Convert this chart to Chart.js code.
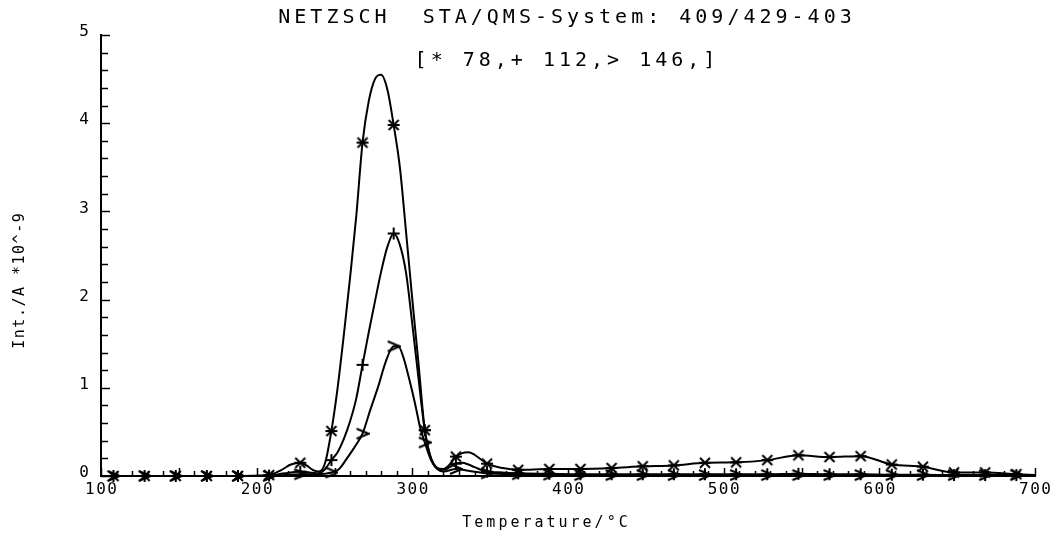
<!DOCTYPE html>
<html>
<head>
<meta charset="utf-8">
<script src="https://cdn.jsdelivr.net/npm/chart.js@4.4.1/dist/chart.umd.min.js"></script>
<style>
  html, body { margin: 0; padding: 0; background: #fff; }
  #wrap { width: 1062px; height: 536px; }
</style>
</head>
<body>
<div id="wrap"><canvas id="msChart" width="1062" height="536"></canvas></div>
<script>
// DATA
const titleText = "NETZSCH  STA/QMS-System: 409/429-403";
const subtitleText = "[* 78,+ 112,> 146,]";
const xTitle = "Temperature/°C";
const yTitle = "Int./A *10^-9";

const xTicks = [100, 200, 300, 400, 500, 600, 700];
const yTicks = [0, 1, 2, 3, 4, 5];

// every 20 degC the plotter put a symbol on the curve
const markerTemps = [108, 128, 148, 168, 188, 208, 228, 248, 268, 288, 308, 328, 348, 368, 388,
    408, 428, 448, 468, 488, 508, 528, 548, 568, 588, 608, 628, 648, 668, 688];

// m/z 78 (*)
const temps78 = [100, 108, 128, 148, 168, 188, 208, 216, 222, 228, 232, 236, 240, 244,
    248, 252, 256, 260, 264, 268, 272, 276, 280, 284, 288, 292, 296, 300, 304, 308,
    312, 316, 320, 324, 328, 332, 336, 340, 344, 348, 358, 368,
    388, 408, 428, 448, 468, 488, 508, 528, 548, 568, 588, 608, 628, 648, 668, 688, 700];
const values78 = [0, 0, 0, 0, 0, 0, 0.01, 0.07, 0.13, 0.15, 0.12, 0.07, 0.05, 0.15,
    0.51, 1.0, 1.6, 2.25, 2.95, 3.78, 4.25, 4.5, 4.55, 4.38, 3.98, 3.5, 2.76, 2.0, 1.27, 0.52,
    0.2, 0.09, 0.08, 0.13, 0.22, 0.26, 0.27, 0.24, 0.19, 0.14, 0.09, 0.07,
    0.08, 0.08, 0.09, 0.11, 0.12, 0.15, 0.155, 0.18, 0.235, 0.215, 0.225, 0.13, 0.105, 0.04, 0.04, 0.02, 0.01];

// m/z 112 (+)
const temps112 = [100, 108, 128, 148, 168, 188, 208, 218, 228, 234, 240, 244,
    248, 252, 256, 260, 264, 268, 272, 276, 280, 284, 288, 292, 296, 300, 304, 308,
    312, 316, 320, 324, 328, 332, 336, 340, 348, 358, 368,
    388, 408, 428, 448, 468, 488, 508, 528, 548, 568, 588, 608, 628, 648, 668, 688, 700];
const values112 = [0, 0, 0, 0, 0, 0, 0.005, 0.03, 0.05, 0.04, 0.03, 0.08,
    0.18, 0.27, 0.42, 0.62, 0.88, 1.26, 1.63, 1.98, 2.32, 2.6, 2.75, 2.62, 2.3, 1.72, 1.1, 0.52,
    0.2, 0.09, 0.07, 0.1, 0.14, 0.15, 0.13, 0.1, 0.05, 0.04, 0.03,
    0.025, 0.02, 0.02, 0.02, 0.02, 0.02, 0.02, 0.02, 0.025, 0.02, 0.02, 0.015, 0.015, 0.01, 0.01, 0.01, 0.01];

// m/z 146 (>)
const temps146 = [100, 108, 128, 148, 168, 188, 208, 228, 240, 248, 253, 258, 263, 268,
    273, 278, 283, 288, 291, 294, 298, 302, 305, 308, 312, 316, 320, 328, 336, 348, 368,
    388, 408, 428, 448, 468, 488, 508, 528, 548, 568, 588, 608, 628, 648, 668, 688, 700];
const values146 = [0, 0, 0, 0, 0, 0, 0, 0.02, 0.02, 0.04, 0.08, 0.2, 0.33, 0.48,
    0.75, 1.01, 1.3, 1.47, 1.47, 1.36, 1.1, 0.8, 0.55, 0.38, 0.18, 0.08, 0.05, 0.08, 0.06, 0.03, 0.02,
    0.015, 0.01, 0.01, 0.01, 0.01, 0.01, 0.01, 0.01, 0.01, 0.01, 0.01, 0.01, 0.01, 0.01, 0.01, 0.01, 0.01];

// MARKER SYMBOLS (plotter style)
function makeSymbol(drawFn) {
    const c = document.createElement('canvas');
    c.width = 14; c.height = 14;
    const g = c.getContext('2d');
    g.strokeStyle = '#000';
    g.lineWidth = 2;
    g.beginPath();
    drawFn(g);
    g.stroke();
    return c;
}
const starSym = makeSymbol(g => {
    g.moveTo(2, 2); g.lineTo(12, 12);
    g.moveTo(2, 12); g.lineTo(12, 2);
    g.moveTo(1, 7); g.lineTo(13, 7);
});
const plusSym = makeSymbol(g => {
    g.moveTo(7, 1); g.lineTo(7, 13);
    g.moveTo(1, 7); g.lineTo(13, 7);
});
const gtSym = makeSymbol(g => {
    g.moveTo(1, 2); g.lineTo(13, 7); g.lineTo(1, 12);
});

function toPoints(temps, values) {
    return temps.map((t, i) => ({ x: t, y: values[i] }));
}

function series(label, temps, values, sym) {
    return {
        label: label,
        data: toPoints(temps, values),
        borderColor: '#000',
        borderWidth: 2,
        cubicInterpolationMode: 'monotone',
        pointStyle: sym,
        pointRadius: ctx => (ctx.raw && markerTemps.includes(ctx.raw.x)) ? 6 : 0,
        clip: false
    };
}

// TEXT + TICK DECORATION
function spacedText(ctx, text, cx, cy, font, spacing) {
    ctx.font = font;
    ctx.letterSpacing = '0px';
    const w = ctx.measureText(text).width + spacing * (text.length - 1);
    ctx.letterSpacing = spacing + 'px';
    ctx.textAlign = 'left';
    ctx.textBaseline = 'middle';
    ctx.fillText(text, cx - w / 2, cy);
    ctx.letterSpacing = '0px';
}

const decor = {
    id: 'decor',
    afterDraw(chart) {
        const { ctx, scales: { x, y } } = chart;
        const left = x.left, bottom = y.bottom;
        ctx.save();
        ctx.strokeStyle = '#000';
        ctx.fillStyle = '#000';
        ctx.lineWidth = 1.5;

        // y ticks, inside, every 0.2
        ctx.beginPath();
        for (let i = 0; i <= 25; i++) {
            const py = Math.round(y.getPixelForValue(i * 0.2)) + 0.5;
            const len = (i % 5 === 0) ? 9 : 7;
            ctx.moveTo(left, py); ctx.lineTo(left + len, py);
        }
        // x ticks, inside, every 10
        for (let i = 0; i <= 60; i++) {
            const px = Math.round(x.getPixelForValue(100 + i * 10)) + 0.5;
            const len = (i % 5 === 0) ? 8 : 5;
            ctx.moveTo(px, bottom); ctx.lineTo(px, bottom - len);
        }
        ctx.stroke();

        // tick labels
        const tickFont = '16px "DejaVu Sans Mono"';
        xTicks.forEach(v => spacedText(ctx, String(v), x.getPixelForValue(v), bottom + 14, tickFont, 1.5));
        yTicks.forEach(v => spacedText(ctx, String(v), left - 17, y.getPixelForValue(v) - 3, tickFont, 1.5));

        // titles
        spacedText(ctx, titleText, 565, 18, '20px "DejaVu Sans Mono"', 4);
        spacedText(ctx, subtitleText, 565, 61, '20px "DejaVu Sans Mono"', 4);
        spacedText(ctx, xTitle, 545, 523, '15px "DejaVu Sans Mono"', 3);

        ctx.translate(20, 281);
        ctx.rotate(-Math.PI / 2);
        spacedText(ctx, yTitle, 0, 0, '15px "DejaVu Sans Mono"', 1.5);
        ctx.restore();
    }
};

new Chart(document.getElementById('msChart'), {
    type: 'line',
    data: {
        datasets: [
            series('78', temps78, values78, starSym),
            series('112', temps112, values112, plusSym),
            series('146', temps146, values146, gtSym)
        ]
    },
    options: {
        responsive: false,
        animation: false,
        devicePixelRatio: 1,
        events: [],
        layout: { padding: { top: 35, right: 27, bottom: 0, left: 0 } },
        plugins: { legend: { display: false }, tooltip: { enabled: false }, title: { display: false } },
        scales: {
            x: {
                type: 'linear', min: 100, max: 700,
                ticks: { display: false, stepSize: 100 },
                grid: { display: false },
                border: { display: true, color: '#000', width: 2 },
                afterFit(s) { s.height = 60; }
            },
            y: {
                type: 'linear', min: 0, max: 5,
                ticks: { display: false, stepSize: 1 },
                grid: { display: false },
                border: { display: true, color: '#000', width: 2 },
                afterFit(s) { s.width = 101; }
            }
        }
    },
    plugins: [decor]
});
</script>
</body>
</html>
